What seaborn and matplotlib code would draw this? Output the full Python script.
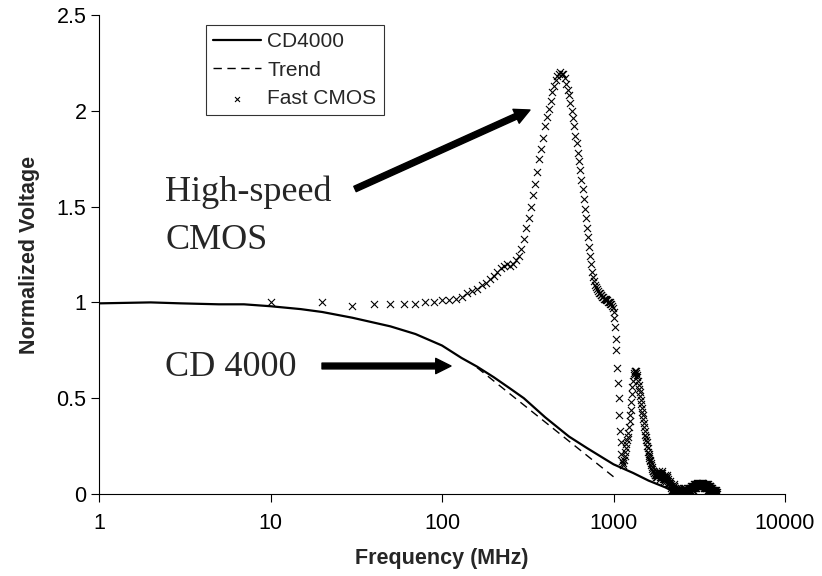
import numpy as np
import pandas as pd
import matplotlib
matplotlib.use("Agg")
import matplotlib.pyplot as plt
import seaborn as sns

# ---------------- data ----------------
cd4000_freq = [1, 2, 3, 5, 7, 10, 15, 20, 30, 50, 70, 100, 130, 160, 200, 250, 300,
               400, 550, 700, 900, 1000, 1300, 1600, 2000, 2400]
cd4000_val = [0.995, 1.0, 0.995, 0.99, 0.99, 0.98, 0.965, 0.95, 0.92, 0.875, 0.835,
              0.775, 0.71, 0.665, 0.61, 0.55, 0.50, 0.40, 0.30, 0.24, 0.18, 0.155,
              0.11, 0.07, 0.035, 0.0]

trend_freq = [160, 1000]
trend_val = [0.66, 0.09]

# Fast CMOS: one value every 10 MHz from 10 MHz to 4000 MHz
fast_cmos_val = [
    1.00, 1.00, 0.98, 0.99, 0.99, 0.99, 0.99, 1.00, 1.00, 1.01,
    1.01, 1.02, 1.03, 1.05, 1.06, 1.07, 1.09, 1.10, 1.12, 1.14,
    1.16, 1.18, 1.19, 1.20, 1.19, 1.20, 1.22, 1.24, 1.28, 1.33,
    1.39, 1.44, 1.50, 1.56, 1.62, 1.68, 1.75, 1.80, 1.86, 1.92,
    1.97, 2.01, 2.05, 2.10, 2.13, 2.16, 2.18, 2.19, 2.20, 2.19,
    2.19, 2.17, 2.14, 2.11, 2.08, 2.04, 2.00, 1.96, 1.92, 1.87,
    1.83, 1.78, 1.74, 1.69, 1.64, 1.59, 1.54, 1.49, 1.44, 1.39,
    1.34, 1.29, 1.24, 1.20, 1.16, 1.13, 1.11, 1.09, 1.08, 1.07,
    1.06, 1.05, 1.05, 1.04, 1.04, 1.03, 1.03, 1.02, 1.02, 1.02,
    1.01, 1.01, 1.00, 1.00, 1.00, 0.99, 0.99, 0.98, 0.97, 0.95,
    0.92, 0.87, 0.81, 0.75, 0.66, 0.58, 0.50, 0.41, 0.33, 0.27,
    0.21, 0.17, 0.15, 0.16, 0.18, 0.20, 0.22, 0.24, 0.26, 0.28,
    0.30, 0.32, 0.35, 0.38, 0.41, 0.44, 0.48, 0.52, 0.56, 0.59,
    0.62, 0.63, 0.64, 0.64, 0.64, 0.63, 0.62, 0.61, 0.59, 0.57,
    0.55, 0.53, 0.51, 0.49, 0.47, 0.45, 0.43, 0.41, 0.39, 0.37,
    0.35, 0.33, 0.31, 0.30, 0.28, 0.27, 0.25, 0.24, 0.22, 0.21,
    0.20, 0.19, 0.18, 0.17, 0.16, 0.15, 0.14, 0.13, 0.12, 0.12,
    0.12, 0.11, 0.11, 0.10, 0.10, 0.09, 0.10, 0.11, 0.10, 0.09,
    0.10, 0.11, 0.12, 0.11, 0.10, 0.09, 0.08, 0.09, 0.10, 0.11,
    0.12, 0.11, 0.10, 0.09, 0.08, 0.07, 0.08, 0.09, 0.10, 0.09,
    0.08, 0.07, 0.08, 0.09, 0.10, 0.09, 0.08, 0.07, 0.06, 0.05,
    0.05, 0.06, 0.07, 0.06, 0.05, 0.04, 0.03, 0.02, 0.02, 0.01,
    0.01, 0.02, 0.03, 0.04, 0.05, 0.04, 0.03, 0.02, 0.01, 0.00,
    0.00, 0.01, 0.02, 0.03, 0.02, 0.01, 0.00, 0.00, 0.01, 0.02,
    0.03, 0.02, 0.01, 0.00, 0.01, 0.02, 0.03, 0.02, 0.01, 0.00,
    0.01, 0.02, 0.01, 0.00, 0.01, 0.02, 0.03, 0.02, 0.01, 0.01,
    0.00, 0.01, 0.02, 0.01, 0.00, 0.01, 0.02, 0.01, 0.00, 0.01,
    0.02, 0.03, 0.02, 0.01, 0.02, 0.03, 0.02, 0.01, 0.02, 0.03,
    0.02, 0.03, 0.04, 0.03, 0.02, 0.03, 0.04, 0.03, 0.02, 0.03,
    0.04, 0.03, 0.04, 0.05, 0.04, 0.03, 0.04, 0.05, 0.04, 0.03,
    0.04, 0.05, 0.04, 0.03, 0.04, 0.05, 0.06, 0.05, 0.04, 0.05,
    0.06, 0.05, 0.04, 0.05, 0.06, 0.05, 0.04, 0.05, 0.06, 0.05,
    0.04, 0.05, 0.06, 0.05, 0.04, 0.05, 0.06, 0.05, 0.06, 0.05,
    0.04, 0.05, 0.06, 0.05, 0.04, 0.03, 0.04, 0.05, 0.04, 0.03,
    0.04, 0.05, 0.04, 0.03, 0.04, 0.05, 0.04, 0.03, 0.04, 0.05,
    0.04, 0.03, 0.04, 0.05, 0.04, 0.03, 0.02, 0.03, 0.04, 0.03,
    0.02, 0.03, 0.04, 0.03, 0.02, 0.03, 0.04, 0.03, 0.02, 0.01,
    0.02, 0.03, 0.02, 0.01, 0.02, 0.03, 0.02, 0.01, 0.02, 0.01,
    0.01, 0.02, 0.01, 0.00, 0.01, 0.02, 0.01, 0.00, 0.01, 0.02,
    0.01, 0.00, 0.01, 0.02, 0.01, 0.00, 0.01, 0.01, 0.00, 0.01,
]
fast_cmos_freq = np.arange(1, len(fast_cmos_val) + 1) * 10

x_ticks = [1, 10, 100, 1000, 10000]
x_tick_labels = ["1", "10", "100", "1000", "10000"]
y_ticks = [0, 0.5, 1, 1.5, 2, 2.5]
y_tick_labels = ["0", "0.5", "1", "1.5", "2", "2.5"]

# ---------------- plot ----------------
sns.set_style("ticks")
plt.rcParams["font.family"] = ["Liberation Sans", "DejaVu Sans"]

W, H = 822, 576
fig = plt.figure(figsize=(W / 100, H / 100), dpi=100)
ax = fig.add_axes([99 / W, 1 - 494 / H, (785 - 99) / W, (494 - 15) / H])

sns.lineplot(x=cd4000_freq, y=cd4000_val, ax=ax, color="black", lw=1.6,
             label="CD4000", sort=True, estimator=None)
sns.lineplot(x=trend_freq, y=trend_val, ax=ax, color="black", lw=1.0,
             linestyle=(0, (6, 4)), label="Trend", estimator=None)
sns.scatterplot(x=fast_cmos_freq, y=fast_cmos_val, ax=ax, marker="x",
                color="black", s=26, linewidth=0.8, label="Fast CMOS")

ax.set_xscale("log")
ax.set_xlim(1, 10000)
ax.set_ylim(0, 2.5)
ax.set_xticks(x_ticks)
ax.set_xticklabels(x_tick_labels)
ax.xaxis.set_minor_locator(matplotlib.ticker.NullLocator())
ax.set_yticks(y_ticks)
ax.set_yticklabels(y_tick_labels)
ax.tick_params(axis="both", direction="out", length=6, width=0.8,
               color="black", labelsize=15.5, labelcolor="black")
ax.tick_params(axis="x", pad=8)
ax.tick_params(axis="y", pad=3)
for s in ["top", "right"]:
    ax.spines[s].set_visible(False)
for s in ["left", "bottom"]:
    ax.spines[s].set_linewidth(0.8)
    ax.spines[s].set_color("black")

ax.set_xlabel("Frequency (MHz)", fontsize=15.5, fontweight="bold", labelpad=10)
ax.set_ylabel("Normalized Voltage", fontsize=15.5, fontweight="bold", labelpad=12)

leg = ax.legend(loc="upper left", bbox_to_anchor=(206 / W, 1 - 25 / H),
                bbox_transform=fig.transFigure, borderaxespad=0,
                frameon=True, fancybox=False,
                fontsize=15, handlelength=2.3, handletextpad=0.3,
                labelspacing=0.45, borderpad=0.35, markerscale=0.7)
leg.get_frame().set_edgecolor("black")
leg.get_frame().set_linewidth(0.8)

# annotations
serif = ["Liberation Serif", "DejaVu Serif"]
fig.text(165 / W, 1 - 192 / H, "High-speed", fontsize=26, family=serif,
         va="center", ha="left")
fig.text(165 / W, 1 - 240 / H, "CMOS", fontsize=26, family=serif,
         va="center", ha="left")
fig.text(165 / W, 1 - 367 / H, "CD 4000", fontsize=26, family=serif,
         va="center", ha="left")

arrow = dict(facecolor="black", edgecolor="black", width=4.2, headwidth=11,
             headlength=11, shrink=0)
ax.annotate("", xy=(530 / W, 1 - 110 / H), xycoords=fig.transFigure,
            xytext=(355 / W, 1 - 189 / H), textcoords=fig.transFigure,
            arrowprops=arrow)
ax.annotate("", xy=(451 / W, 1 - 366 / H), xycoords=fig.transFigure,
            xytext=(322 / W, 1 - 366 / H), textcoords=fig.transFigure,
            arrowprops=arrow)

fig.savefig("out.png", dpi=100)
